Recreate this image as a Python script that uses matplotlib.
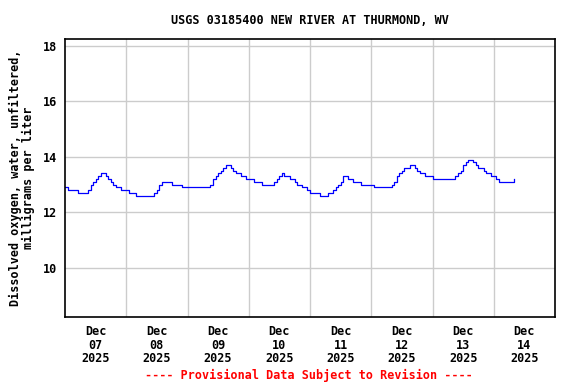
import matplotlib
matplotlib.use("Agg")
import matplotlib.pyplot as plt
import numpy as np
import pandas as pd

# hourly dissolved oxygen, mg/L, starting Dec 07 2025 00:00
do_values = [
    12.9, 12.8, 12.8, 12.8, 12.8, 12.7, 12.7, 12.7, 12.7, 12.8,
    13.0, 13.1, 13.2, 13.3, 13.4, 13.4, 13.3, 13.2, 13.1, 13.0,
    12.9, 12.9, 12.8, 12.8, 12.8, 12.7, 12.7, 12.7, 12.6, 12.6,
    12.6, 12.6, 12.6, 12.6, 12.6, 12.7, 12.8, 13.0, 13.1, 13.1,
    13.1, 13.1, 13.0, 13.0, 13.0, 13.0, 12.9, 12.9, 12.9, 12.9,
    12.9, 12.9, 12.9, 12.9, 12.9, 12.9, 12.9, 13.0, 13.2, 13.3,
    13.4, 13.5, 13.6, 13.7, 13.7, 13.6, 13.5, 13.4, 13.4, 13.3,
    13.3, 13.2, 13.2, 13.2, 13.1, 13.1, 13.1, 13.0, 13.0, 13.0,
    13.0, 13.0, 13.1, 13.2, 13.3, 13.4, 13.3, 13.3, 13.2, 13.2,
    13.1, 13.0, 13.0, 12.9, 12.9, 12.8, 12.7, 12.7, 12.7, 12.7,
    12.6, 12.6, 12.6, 12.7, 12.7, 12.8, 12.9, 13.0, 13.1, 13.3,
    13.3, 13.2, 13.2, 13.1, 13.1, 13.1, 13.0, 13.0, 13.0, 13.0,
    13.0, 12.9, 12.9, 12.9, 12.9, 12.9, 12.9, 12.9, 13.0, 13.1,
    13.3, 13.4, 13.5, 13.6, 13.6, 13.7, 13.7, 13.6, 13.5, 13.4,
    13.4, 13.3, 13.3, 13.3, 13.2, 13.2, 13.2, 13.2, 13.2, 13.2,
    13.2, 13.2, 13.2, 13.3, 13.4, 13.5, 13.7, 13.8, 13.9, 13.9,
    13.8, 13.7, 13.6, 13.6, 13.5, 13.4, 13.4, 13.3, 13.3, 13.2,
    13.1, 13.1, 13.1, 13.1, 13.1, 13.1, 13.2,
]
times = pd.date_range("2025-12-07 00:00", periods=len(do_values), freq="h")

day_labels = ["Dec\n07\n2025", "Dec\n08\n2025", "Dec\n09\n2025", "Dec\n10\n2025",
              "Dec\n11\n2025", "Dec\n12\n2025", "Dec\n13\n2025", "Dec\n14\n2025"]
y_ticks = [10, 12, 14, 16, 18]

font = {'family': 'DejaVu Sans Mono', 'weight': 'bold', 'size': 8.5}

fig = plt.figure(figsize=(5.76, 3.84), dpi=100)
ax = fig.add_axes([65 / 576, 1 - 317 / 384, 490 / 576, 278 / 384])

ax.plot(times, do_values, color='#0000ff', linewidth=0.9, drawstyle='steps-post')

start = pd.Timestamp("2025-12-07")
ax.set_xlim(start, start + pd.Timedelta(days=8))
ax.set_ylim(8.22, 18.25)

day_edges = pd.date_range(start + pd.Timedelta(days=1), periods=7, freq="D")
noons = pd.date_range(start + pd.Timedelta(hours=12), periods=8, freq="D")
ax.set_xticks(day_edges)
ax.set_xticklabels([])
ax.set_xticks(noons, minor=True)
ax.set_xticklabels(day_labels, minor=True, fontdict=font, linespacing=1.05)
ax.tick_params(axis='x', which='both', length=0, pad=6)

ax.set_yticks(y_ticks)
ax.set_yticklabels([str(t) for t in y_ticks], fontdict=font)
ax.tick_params(axis='y', length=0, pad=6)

ax.grid(True, which='major', color='#cccccc', linewidth=1)
ax.set_axisbelow(True)
for sp in ax.spines.values():
    sp.set_linewidth(1.2)

ax.set_title("USGS 03185400 NEW RIVER AT THURMOND, WV", fontdict=font, pad=11)
ax.set_ylabel("Dissolved oxygen, water, unfiltered,\nmilligrams per liter",
              fontdict=font, linespacing=1.0, labelpad=5)
fig.text(309 / 576, 1 - 375 / 384, "---- Provisional Data Subject to Revision ----",
         color='red', ha='center', va='center', **font)

fig.savefig("out.png", dpi=100)
